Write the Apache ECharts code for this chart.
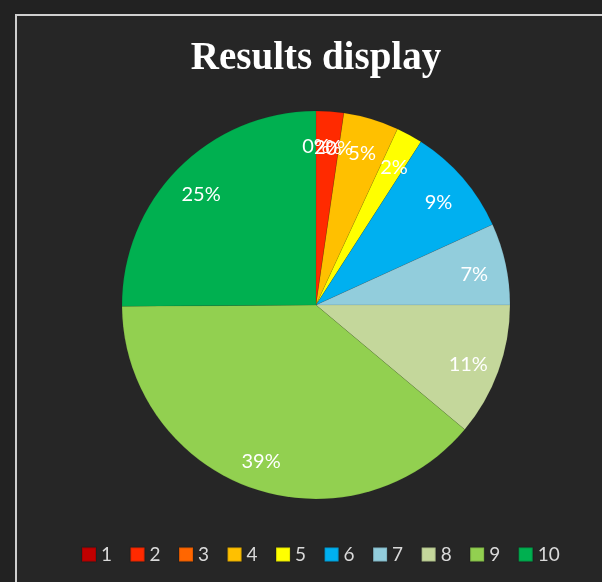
<!DOCTYPE html>
<html>
<head>
<meta charset="utf-8">
<title>Results display</title>
<script src="https://cdn.jsdelivr.net/npm/echarts@6/dist/echarts.min.js"></script>
<style>
    html, body { margin: 0; padding: 0; background: #222222; }
    #chart { width: 602px; height: 582px; }
</style>
</head>
<body>
<div id="chart"></div>
<script>
    // categories and values (percent of total)
    var categories = ['1', '2', '3', '4', '5', '6', '7', '8', '9', '10'];
    var values = [0, 2.3, 0, 4.6, 2.2, 9.1, 6.8, 11.1, 38.8, 25.1];
    var colors = ['#C00000', '#FF2A00', '#FF6600', '#FFC000', '#FFFF00',
                  '#00B0F0', '#92CDDC', '#C4D79B', '#92D050', '#00B050'];

    var total = 0;
    for (var i = 0; i < values.length; i++) total += values[i];

    var pieData = [];
    var labelData = [];   // [radius, angle] on a hidden polar system, so 0% slices get a label too
    var acc = 0;
    for (var i = 0; i < categories.length; i++) {
        pieData.push({name: categories[i], value: values[i]});
        var pct = values[i] / total * 100;
        labelData.push({value: [0.835, acc + pct / 2], pct: pct});
        acc += pct;
    }

    var myChart = echarts.init(document.getElementById('chart'));
    var option = {
        backgroundColor: '#222222',
        animation: false,
        color: colors,
        graphic: [
            {
                type: 'rect',
                z: -10,
                shape: {x: 16, y: 15, width: 620, height: 600},
                style: {fill: '#262626', stroke: '#cfcfcf', lineWidth: 2}
            }
        ],
        title: {
            text: 'Results display',
            left: 316,
            top: 39,
            padding: 0,
            textAlign: 'center',
            textStyle: {
                fontFamily: 'Liberation Serif',
                fontWeight: 'bold',
                fontSize: 39,
                color: '#ffffff'
            }
        },
        legend: {
            data: categories,
            left: 81,
            top: 545,
            padding: 0,
            itemWidth: 14,
            itemHeight: 14,
            itemGap: 17.5,
            icon: 'rect',
            textStyle: {
                fontFamily: 'Lato',
                fontSize: 19,
                color: '#d9d9d9'
            }
        },
        polar: {
            center: [316, 305],
            radius: 194
        },
        angleAxis: {
            type: 'value',
            min: 0,
            max: 100,
            startAngle: 90,
            clockwise: true,
            show: false
        },
        radiusAxis: {
            type: 'value',
            min: 0,
            max: 1,
            show: false
        },
        series: [
            {
                name: 'pie',
                type: 'pie',
                center: [316, 305],
                radius: [0, 194],
                startAngle: 90,
                clockwise: true,
                silent: true,
                label: {show: false},
                labelLine: {show: false},
                itemStyle: {borderColor: 'rgba(0,0,0,0.12)', borderWidth: 0.6},
                data: pieData
            },
            {
                name: 'labels',
                type: 'scatter',
                coordinateSystem: 'polar',
                symbolSize: 0,
                silent: true,
                z: 5,
                itemStyle: {opacity: 1, color: '#ffffff'},
                label: {
                    show: true,
                    position: 'inside',
                    offset: [0, 4],
                    fontFamily: 'Lato',
                    fontSize: 20,
                    color: '#ffffff',
                    opacity: 1,
                    formatter: function (p) {
                        return Math.round(p.data.pct) + '%';
                    }
                },
                data: labelData
            }
        ]
    };
    myChart.setOption(option);
</script>
</body>
</html>
